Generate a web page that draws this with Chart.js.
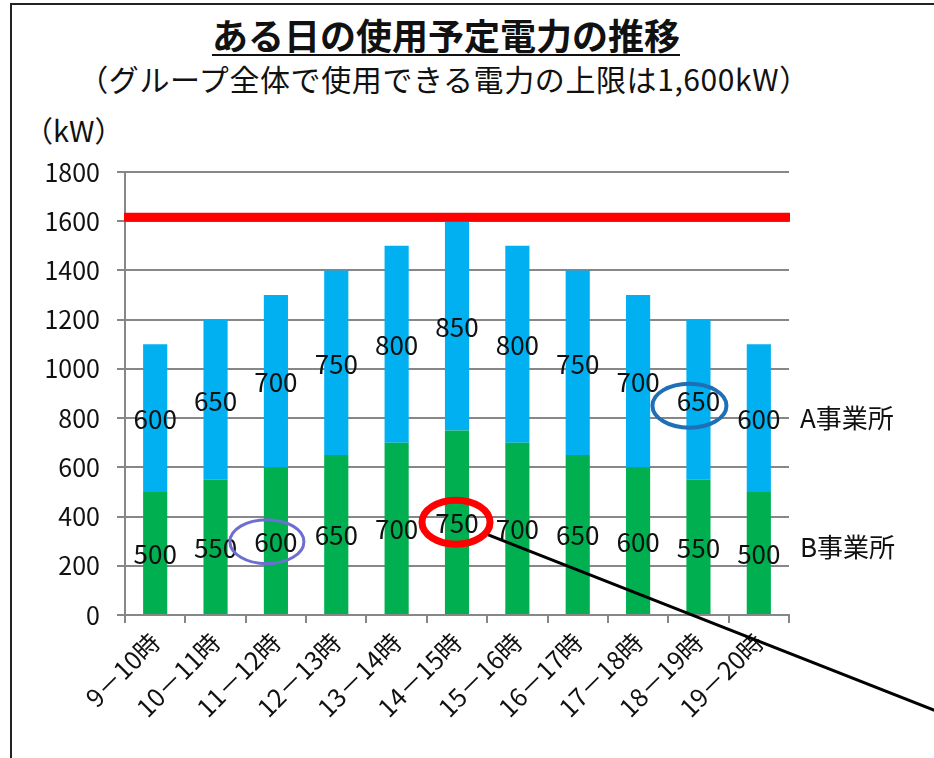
<!DOCTYPE html>
<html lang="ja">
<head>
<meta charset="utf-8">
<title>ある日の使用予定電力の推移</title>
<script src="https://cdn.jsdelivr.net/npm/chart.js@4"></script>
<style>
  html, body { margin: 0; padding: 0; background: #fff; }
  body { width: 934px; height: 758px; position: relative; overflow: hidden; font-family: "Noto Sans CJK JP", "Noto Sans", sans-serif; color: #111; }
  .frame { position: absolute; left: 10px; top: 3px; width: 940px; height: 770px; border-left: 2px solid #222; border-top: 2px solid #222; }
  .title { position: absolute; left: 446px; top: 16px; transform: translateX(-50%); white-space: nowrap; font-size: 36px; font-weight: bold; line-height: 36px; text-decoration: underline; text-decoration-thickness: 2px; text-underline-offset: 4px; }
  .subtitle { position: absolute; left: 444px; top: 62px; transform: translateX(-50%); white-space: nowrap; font-size: 30px; letter-spacing: 0.6px; line-height: 32px; }
  .unit { position: absolute; left: 24px; top: 113px; font-size: 29px; line-height: 32px; white-space: nowrap; }
  canvas { position: absolute; left: 0; top: 0; }
</style>
</head>
<body>
<div class="frame"></div>
<div class="title">ある日の使用予定電力の推移</div>
<div class="subtitle">（グループ全体で使用できる電力の上限は1,600kW）</div>
<div class="unit">（kW）</div>
<canvas id="chart" width="934" height="758"></canvas>
<script>
const hours = ['9－10時', '10－11時', '11－12時', '12－13時', '13－14時', '14－15時', '15－16時', '16－17時', '17－18時', '18－19時', '19－20時'];
const siteB = [500, 550, 600, 650, 700, 750, 700, 650, 600, 550, 500];
const siteA = [600, 650, 700, 750, 800, 850, 800, 750, 700, 650, 600];
const seriesNames = ['B事業所', 'A事業所'];
const limitKW = 1600;
const yMin = 0, yMax = 1800, yStep = 200;

const FONT = '"Noto Sans CJK JP", "Noto Sans", sans-serif';
const GRID = '#878787';

// circled values: [dataset index, category index]
const marks = [
  { ds: 0, idx: 2, color: '#6E6ED2', width: 3, rx: 37, ry: 22, dx: -9, dy: 1 },
  { ds: 0, idx: 5, color: '#FF0000', width: 7, rx: 34, ry: 22, dx: -1, dy: 0 },
  { ds: 1, idx: 9, color: '#1F6FB6', width: 4, rx: 37, ry: 22, dx: -9, dy: 6 }
];

const segCenter = (chart, ds, idx) => {
  const el = chart.getDatasetMeta(ds).data[idx];
  return { x: el.x, y: (el.y + el.base) / 2 };
};

const overlay = {
  id: 'overlay',
  afterDatasetsDraw(chart) {
    const { ctx, chartArea, scales } = chart;
    ctx.save();
    // upper limit line
    const ly = scales.y.getPixelForValue(limitKW) - 4;
    ctx.strokeStyle = '#FF0000';
    ctx.lineWidth = 9;
    ctx.beginPath();
    ctx.moveTo(chartArea.left - 1, ly);
    ctx.lineTo(chartArea.right + 1, ly);
    ctx.stroke();

    // values inside the bars
    ctx.fillStyle = '#111';
    ctx.font = '26px ' + FONT;
    ctx.textAlign = 'center';
    ctx.textBaseline = 'middle';
    chart.data.datasets.forEach((d, i) => {
      d.data.forEach((v, j) => {
        const p = segCenter(chart, i, j);
        ctx.fillText(String(v), p.x, p.y + 1);
      });
    });

    // series names to the right of the last bar
    ctx.textAlign = 'left';
    const last = hours.length - 1;
    const a = segCenter(chart, 1, last);
    const b = segCenter(chart, 0, last);
    ctx.fillText(seriesNames[1], chartArea.right + 11, a.y);
    ctx.fillText(seriesNames[0], chartArea.right + 11, b.y - 6);
    ctx.restore();
  },
  afterDraw(chart) {
    const { ctx } = chart;
    ctx.save();
    marks.forEach(m => {
      const p = segCenter(chart, m.ds, m.idx);
      ctx.strokeStyle = m.color;
      ctx.lineWidth = m.width;
      ctx.beginPath();
      ctx.ellipse(p.x + m.dx, p.y + m.dy, m.rx, m.ry, 0, 0, Math.PI * 2);
      ctx.stroke();
    });
    // pointer line leaving the red circle
    const r = marks[1];
    const c = segCenter(chart, r.ds, r.idx);
    const cx = c.x + r.dx, cy = c.y + r.dy;
    const ex = chart.width + 2, ey = chart.height - 47;
    const len = Math.hypot(ex - cx, ey - cy);
    const ux = (ex - cx) / len, uy = (ey - cy) / len;
    const t = 1 / Math.sqrt((ux / r.rx) ** 2 + (uy / r.ry) ** 2) + r.width / 2;
    ctx.strokeStyle = '#000';
    ctx.lineWidth = 3;
    ctx.beginPath();
    ctx.moveTo(cx + ux * t, cy + uy * t);
    ctx.lineTo(ex, ey);
    ctx.stroke();
    ctx.restore();
  }
};

new Chart(document.getElementById('chart'), {
  type: 'bar',
  data: {
    labels: hours,
    datasets: [
      { label: seriesNames[0], data: siteB, backgroundColor: '#00B050', categoryPercentage: 1, barPercentage: 0.4 },
      { label: seriesNames[1], data: siteA, backgroundColor: '#00B0F0', categoryPercentage: 1, barPercentage: 0.4 }
    ]
  },
  options: {
    responsive: false,
    animation: false,
    layout: { padding: { left: 0, right: 145, top: 172, bottom: 0 } },
    plugins: { legend: { display: false }, tooltip: { enabled: false } },
    scales: {
      x: {
        stacked: true,
        grid: { offset: true, drawOnChartArea: false, color: GRID, lineWidth: 2, tickLength: 8 },
        border: { color: GRID, width: 2 },
        ticks: { color: '#111', font: { family: FONT, size: 25 }, minRotation: 45, maxRotation: 45, autoSkip: false, padding: 4 },
        afterFit: s => { s.height = 143; }
      },
      y: {
        stacked: true,
        min: yMin, max: yMax,
        grid: { color: GRID, lineWidth: 2, tickLength: 8 },
        border: { color: GRID, width: 2 },
        ticks: { stepSize: yStep, color: '#111', font: { family: FONT, size: 25 }, padding: 17, callback: v => String(v) },
        afterFit: s => { s.width = 125; }
      }
    }
  },
  plugins: [overlay]
});
</script>
</body>
</html>
